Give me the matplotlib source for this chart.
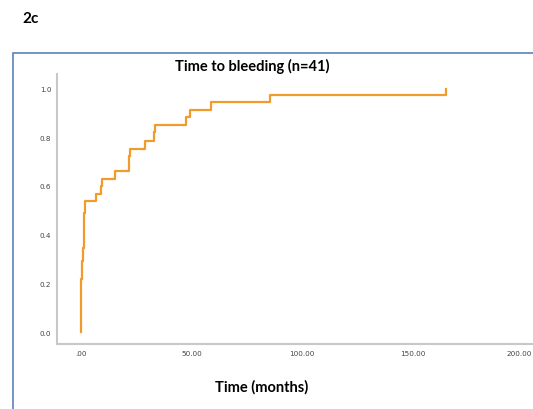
import matplotlib.pyplot as plt
from matplotlib.patches import Rectangle
from matplotlib.transforms import ScaledTranslation

# step times (months) and cumulative incidence after each step
times = [0.0, 0.1, 0.12, 0.15, 0.2, 0.25, 0.5, 0.7, 0.9, 1.0, 1.2, 1.4, 1.5, 1.7,
         7.0, 9.1, 9.7, 15.6, 21.6, 22.4, 29.1, 32.9, 33.7, 47.5, 49.5, 58.8, 85.6, 165.1]
cum_inc = [0.0, 0.04, 0.09, 0.13, 0.18, 0.22, 0.26, 0.29, 0.32, 0.345, 0.39, 0.44, 0.49, 0.537,
           0.567, 0.598, 0.628, 0.660, 0.724, 0.752, 0.786, 0.820, 0.851, 0.882, 0.912, 0.943, 0.975, 1.0]

x_ticks = [0, 50, 100, 150, 200]
x_tick_labels = ['.00', '50.00', '100.00', '150.00', '200.00']
y_ticks = [0.0, 0.2, 0.4, 0.6, 0.8, 1.0]
y_tick_labels = ['0.0', '0.2', '0.4', '0.6', '0.8', '1.0']

W, H = 533, 410
fig = plt.figure(figsize=(W / 100, H / 100), dpi=100)

# blue frame around the chart
fig.patches.append(Rectangle((13 / W, -0.1), 1.2, 1 - 54 / H + 0.1, transform=fig.transFigure,
                             fill=False, edgecolor='#4a76b8', linewidth=1.1))

fig.text(22 / W, 1 - 19 / H, '2c', fontsize=11, fontweight='bold', family='Lato',
         ha='left', va='center')

ax = fig.add_axes([57 / W, 1 - 345 / H, 1 - 57 / W, (345 - 75) / H])
ax.step(times, cum_inc, where='post', color='#f09b2c', linewidth=1.6)

ax.set_xlim(-10.8, 204.4)
ax.set_ylim(-0.049, 1.06)
ax.set_xticks(x_ticks)
ax.set_xticklabels(x_tick_labels)
ax.set_yticks(y_ticks)
ax.set_yticklabels(y_tick_labels)
ax.tick_params(length=0, labelsize=5.2, labelcolor='#444444', pad=4)

# keep the last x label inside the figure
last = ax.get_xticklabels()[-1]
last.set_ha('right')
last.set_transform(last.get_transform() + ScaledTranslation(9 / 100, 0, fig.dpi_scale_trans))

for s in ['top', 'right']:
    ax.spines[s].set_visible(False)
for s in ['left', 'bottom']:
    ax.spines[s].set_color('#c8c8c8')
    ax.spines[s].set_linewidth(1.5)

fig.text(252 / W, 1 - 66 / H, 'Time to bleeding (n=41)', fontsize=10.5, fontweight='bold',
         family='Lato', ha='center', va='center')
fig.text(262 / W, 1 - 387 / H, 'Time (months)', fontsize=10.5, fontweight='bold',
         family='Lato', ha='center', va='center')

fig.savefig('out.png', dpi=100)
